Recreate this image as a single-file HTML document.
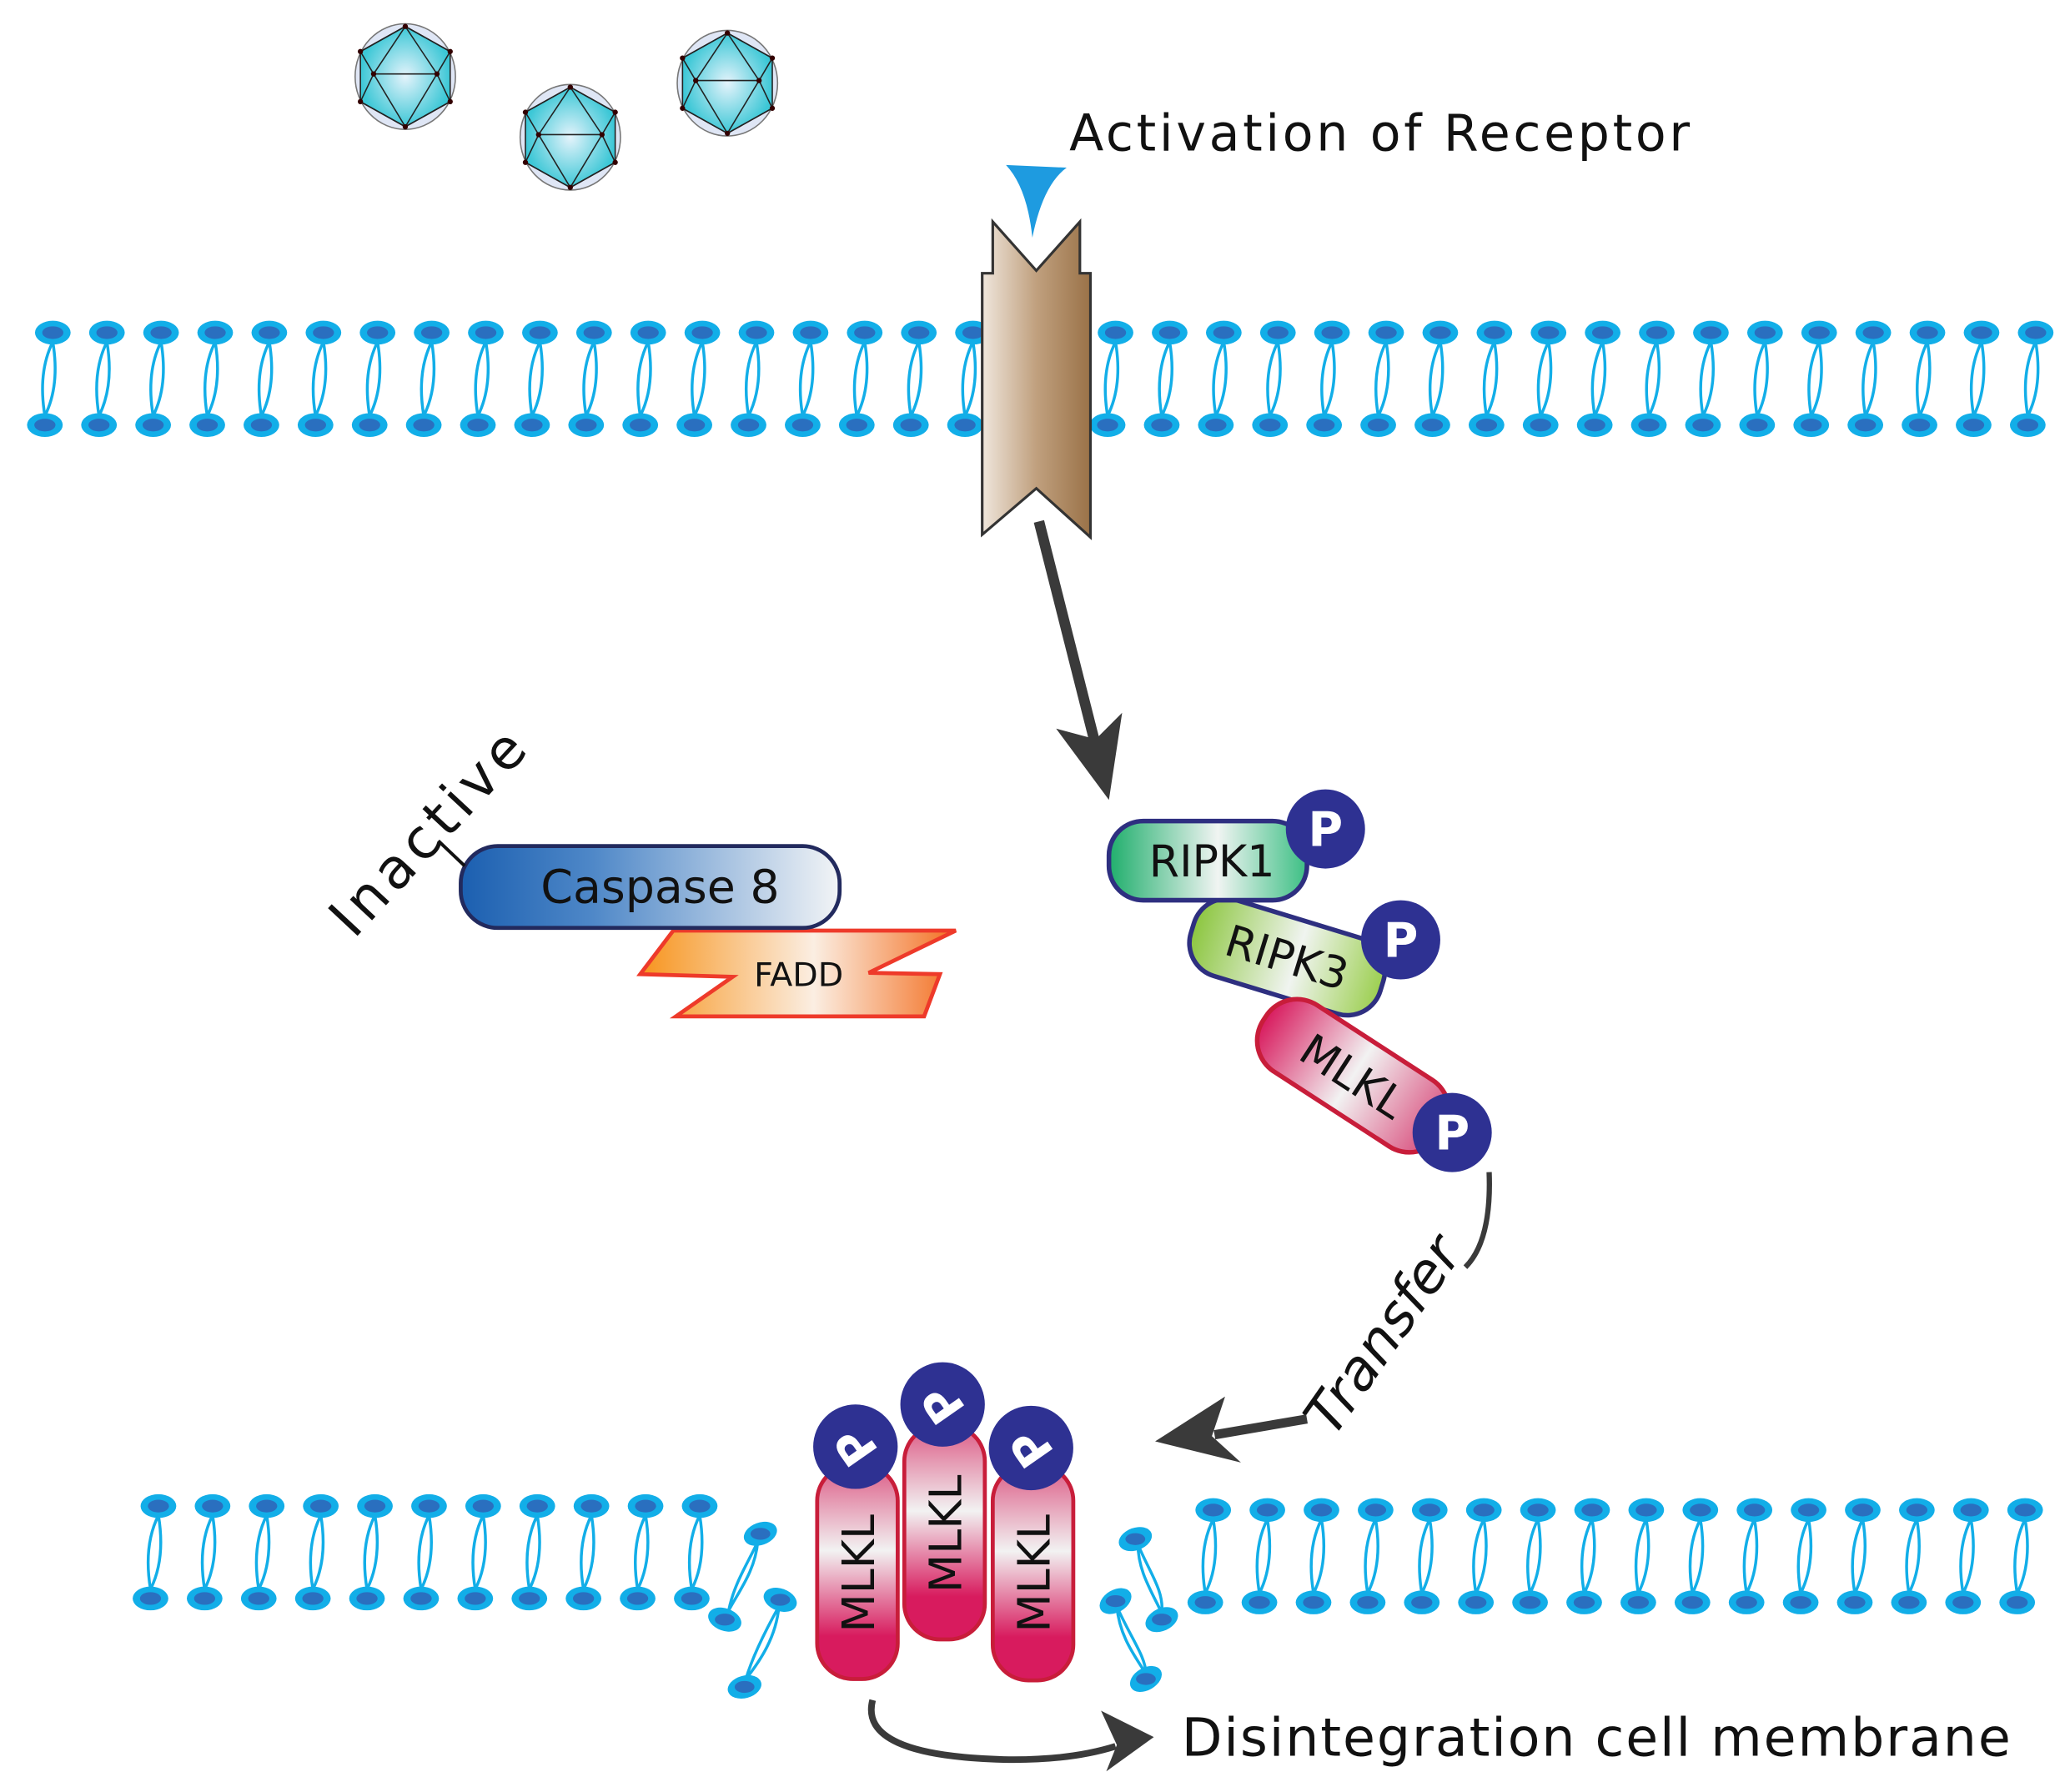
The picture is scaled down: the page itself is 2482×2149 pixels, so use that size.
<!DOCTYPE html>
<html><head><meta charset="utf-8"><style>html,body{margin:0;padding:0;background:#fff}svg{display:block}</style></head>
<body>
<svg width="2482" height="2149" viewBox="0 0 1568 1357.6" xmlns="http://www.w3.org/2000/svg" font-family="'DejaVu Sans','Liberation Sans',sans-serif">
<defs>
<g id="lip">
<path d="M0,7 C-9,25 -9,45 -6,63 M0,7 C3,25 3,45 -6,63" fill="none" stroke="#12aee8" stroke-width="2.2"/>
<ellipse cx="0" cy="0" rx="13.5" ry="9" fill="#12aee8"/><ellipse cx="0" cy="0" rx="8" ry="4.8" fill="#2a6fbf"/>
<ellipse cx="-6" cy="70" rx="13.5" ry="9" fill="#12aee8"/><ellipse cx="-6" cy="70" rx="8" ry="4.8" fill="#2a6fbf"/>
</g>
<linearGradient id="brown" x1="0" x2="1"><stop offset="0" stop-color="#efe6dc"/><stop offset="0.5" stop-color="#c0a07e"/><stop offset="1" stop-color="#9a7248"/></linearGradient>
<linearGradient id="gG" x1="0" x2="1"><stop offset="0" stop-color="#1fae6c"/><stop offset="0.55" stop-color="#f0f4f2"/><stop offset="1" stop-color="#3cbf84"/></linearGradient>
<linearGradient id="gL" x1="0" x2="1"><stop offset="0" stop-color="#8cc63f"/><stop offset="0.55" stop-color="#f0f4f0"/><stop offset="1" stop-color="#9ccf50"/></linearGradient>
<linearGradient id="gR" x1="0" x2="1"><stop offset="0" stop-color="#d81b5e"/><stop offset="0.5" stop-color="#f2f2f2"/><stop offset="1" stop-color="#d84a7a"/></linearGradient>
<linearGradient id="gRv" x1="0" x2="0" y1="0" y2="1"><stop offset="0" stop-color="#dc5a85"/><stop offset="0.4" stop-color="#f2f2f2"/><stop offset="0.8" stop-color="#d81b5e"/></linearGradient>
<linearGradient id="gB" x1="0" x2="1"><stop offset="0" stop-color="#1b5fb0"/><stop offset="0.35" stop-color="#4f88c8"/><stop offset="1" stop-color="#f2f4f6"/></linearGradient>
<linearGradient id="gO" x1="0" x2="1"><stop offset="0" stop-color="#f7941d"/><stop offset="0.55" stop-color="#fbeee2"/><stop offset="1" stop-color="#f36f21"/></linearGradient>
<radialGradient id="vir"><stop offset="0" stop-color="#e4f3fb"/><stop offset="1" stop-color="#3cc7d6"/></radialGradient>
<g id="virus">
<ellipse cx="0" cy="0" rx="38" ry="40" fill="#dfe6f5" stroke="#777" stroke-width="1"/>
<polygon points="0,-38 34,-19 34,19 0,38 -34,19 -34,-19" fill="url(#vir)" stroke="#222" stroke-width="1"/>
<path d="M0,-38 L-24,-2 L0,38 L24,-2 Z M-24,-2 H24 M-34,-19 L-24,-2 L-34,19 M34,-19 L24,-2 L34,19 M-34,-19 L0,-38 L34,-19 M-34,19 L0,38 L34,19" fill="none" stroke="#222" stroke-width="1"/>
<g fill="#300"><circle cx="0" cy="-38" r="2"/><circle cx="34" cy="-19" r="2"/><circle cx="34" cy="19" r="2"/><circle cx="0" cy="38" r="2"/><circle cx="-34" cy="19" r="2"/><circle cx="-34" cy="-19" r="2"/><circle cx="-24" cy="-2" r="2"/><circle cx="24" cy="-2" r="2"/></g>
</g>
</defs>

<use href="#virus" x="307" y="58"/>
<use href="#virus" x="432" y="104"/>
<use href="#virus" x="551" y="63"/>

<g>
<use href="#lip" x="40" y="252"/><use href="#lip" x="81" y="252"/><use href="#lip" x="122" y="252"/><use href="#lip" x="163" y="252"/><use href="#lip" x="204" y="252"/><use href="#lip" x="245" y="252"/><use href="#lip" x="286" y="252"/><use href="#lip" x="327" y="252"/><use href="#lip" x="368" y="252"/><use href="#lip" x="409" y="252"/><use href="#lip" x="450" y="252"/><use href="#lip" x="491" y="252"/><use href="#lip" x="532" y="252"/><use href="#lip" x="573" y="252"/><use href="#lip" x="614" y="252"/><use href="#lip" x="655" y="252"/><use href="#lip" x="696" y="252"/><use href="#lip" x="737" y="252"/>
<use href="#lip" x="845" y="252"/><use href="#lip" x="886" y="252"/><use href="#lip" x="927" y="252"/><use href="#lip" x="968" y="252"/><use href="#lip" x="1009" y="252"/><use href="#lip" x="1050" y="252"/><use href="#lip" x="1091" y="252"/><use href="#lip" x="1132" y="252"/><use href="#lip" x="1173" y="252"/><use href="#lip" x="1214" y="252"/><use href="#lip" x="1255" y="252"/><use href="#lip" x="1296" y="252"/><use href="#lip" x="1337" y="252"/><use href="#lip" x="1378" y="252"/><use href="#lip" x="1419" y="252"/><use href="#lip" x="1460" y="252"/><use href="#lip" x="1501" y="252"/><use href="#lip" x="1542" y="252"/>
</g>

<path d="M744,207 L752,207 L752,168 L785,205 L818,168 L818,207 L826,207 L826,407 L785,370 L744,405 Z" fill="url(#brown)" stroke="#333" stroke-width="2"/>
<path d="M762,125 L808,127 Q790,140 782,180 Q778,142 762,125 Z" fill="#1e9be0"/>
<text x="810" y="114" font-size="38" fill="#111" textLength="470">Activation of Receptor</text>

<line x1="787" y1="395" x2="830" y2="565" stroke="#3a3a3a" stroke-width="8"/>
<path d="M840,606 L800,552 L830,560 L850,540 Z" fill="#3a3a3a"/>

<path d="M485,738 L510,705 L724,705 L658,737 L712,738 L700,770 L512,770 L555,740 Z" fill="url(#gO)" stroke="#ee3a2a" stroke-width="3"/>
<text x="605" y="747" font-size="25" text-anchor="middle" fill="#111">FADD</text>
<rect x="349" y="641" width="287" height="62" rx="28" fill="url(#gB)" stroke="#222a5e" stroke-width="3"/>
<text x="500" y="684" font-size="35" text-anchor="middle" fill="#111">Caspase 8</text>
<line x1="332" y1="637" x2="352" y2="656" stroke="#111" stroke-width="2.5"/>
<text transform="translate(268,712) rotate(-47)" font-size="42" fill="#111" textLength="195">Inactive</text>

<g transform="translate(975,725) rotate(17)">
<rect x="-75" y="-30" width="150" height="60" rx="26" fill="url(#gL)" stroke="#2e2f80" stroke-width="3.5"/>
<text x="0" y="12" font-size="33" text-anchor="middle" fill="#111">RIPK3</text>
</g>
<rect x="840" y="622" width="150" height="60" rx="26" fill="url(#gG)" stroke="#2e2f80" stroke-width="3.5"/>
<text x="918" y="664" font-size="33" text-anchor="middle" fill="#111">RIPK1</text>
<g transform="translate(1025,815) rotate(33)">
<rect x="-80" y="-30" width="160" height="60" rx="28" fill="url(#gR)" stroke="#c81d3a" stroke-width="3.5"/>
<text x="0" y="12" font-size="33" text-anchor="middle" fill="#111">MLKL</text>
</g>
<g font-weight="bold" font-size="36" fill="#fff" text-anchor="middle">
<circle cx="1004" cy="628" r="30" fill="#2e3192"/><text x="1004" y="641">P</text>
<circle cx="1061" cy="712" r="30" fill="#2e3192"/><text x="1061" y="725">P</text>
<circle cx="1100" cy="858" r="30" fill="#2e3192"/><text x="1100" y="871">P</text>
</g>

<path d="M1128,888 Q1130,940 1110,960" fill="none" stroke="#3a3a3a" stroke-width="4"/>
<text transform="translate(1010,1090) rotate(-55)" font-size="42" font-style="italic" fill="#111">Transfer</text>
<line x1="990" y1="1075" x2="920" y2="1087" stroke="#3a3a3a" stroke-width="7"/>
<path d="M875,1092 L928,1058 L918,1088 L940,1108 Z" fill="#3a3a3a"/>

<g>
<use href="#lip" x="120" y="1141"/><use href="#lip" x="161" y="1141"/><use href="#lip" x="202" y="1141"/><use href="#lip" x="243" y="1141"/><use href="#lip" x="284" y="1141"/><use href="#lip" x="325" y="1141"/><use href="#lip" x="366" y="1141"/><use href="#lip" x="407" y="1141"/><use href="#lip" x="448" y="1141"/><use href="#lip" x="489" y="1141"/><use href="#lip" x="530" y="1141"/>
<use href="#lip" x="919" y="1144"/><use href="#lip" x="960" y="1144"/><use href="#lip" x="1001" y="1144"/><use href="#lip" x="1042" y="1144"/><use href="#lip" x="1083" y="1144"/><use href="#lip" x="1124" y="1144"/><use href="#lip" x="1165" y="1144"/><use href="#lip" x="1206" y="1144"/><use href="#lip" x="1247" y="1144"/><use href="#lip" x="1288" y="1144"/><use href="#lip" x="1329" y="1144"/><use href="#lip" x="1370" y="1144"/><use href="#lip" x="1411" y="1144"/><use href="#lip" x="1452" y="1144"/><use href="#lip" x="1493" y="1144"/><use href="#lip" x="1534" y="1144"/>
</g>
<g fill="#12aee8">
<path d="M574,1168 C566,1185 556,1200 552,1220 M574,1168 C572,1190 560,1205 552,1220 M590,1217 C580,1235 570,1255 565,1272 M590,1217 C588,1240 576,1258 565,1272 M862,1170 C862,1190 872,1205 880,1222 M862,1170 C870,1190 882,1205 880,1222 M846,1217 C848,1240 860,1255 868,1268 M846,1217 C856,1240 868,1255 868,1268" fill="none" stroke="#12aee8" stroke-width="2.2"/>
<ellipse cx="576" cy="1162" rx="13" ry="8.5" transform="rotate(-20 576 1162)"/><ellipse cx="549" cy="1227" rx="13" ry="8.5" transform="rotate(20 549 1227)"/>
<ellipse cx="591" cy="1212" rx="13" ry="8.5" transform="rotate(20 591 1212)"/><ellipse cx="564" cy="1278" rx="13" ry="8.5" transform="rotate(-15 564 1278)"/>
<ellipse cx="860" cy="1166" rx="13" ry="8.5" transform="rotate(-20 860 1166)"/><ellipse cx="880" cy="1227" rx="13" ry="8.5" transform="rotate(-25 880 1227)"/>
<ellipse cx="845" cy="1213" rx="13" ry="8.5" transform="rotate(-30 845 1213)"/><ellipse cx="868" cy="1272" rx="13" ry="8.5" transform="rotate(-30 868 1272)"/>
</g>
<g fill="#2a6fbf">
<ellipse cx="576" cy="1162" rx="7.5" ry="4.5"/><ellipse cx="549" cy="1227" rx="7.5" ry="4.5"/><ellipse cx="591" cy="1212" rx="7.5" ry="4.5"/><ellipse cx="564" cy="1278" rx="7.5" ry="4.5"/>
<ellipse cx="860" cy="1166" rx="7.5" ry="4.5"/><ellipse cx="880" cy="1227" rx="7.5" ry="4.5"/><ellipse cx="845" cy="1213" rx="7.5" ry="4.5"/><ellipse cx="868" cy="1272" rx="7.5" ry="4.5"/>
</g>

<rect x="619" y="1110" width="61" height="162" rx="27" fill="url(#gRv)" stroke="#c81d3a" stroke-width="3"/>
<rect x="685" y="1080" width="61" height="162" rx="27" fill="url(#gRv)" stroke="#c81d3a" stroke-width="3"/>
<rect x="752" y="1110" width="61" height="163" rx="27" fill="url(#gRv)" stroke="#c81d3a" stroke-width="3"/>
<g font-size="34" fill="#111" text-anchor="middle">
<text transform="translate(662,1192) rotate(-90)">MLKL</text>
<text transform="translate(728,1162) rotate(-90)">MLKL</text>
<text transform="translate(795,1192) rotate(-90)">MLKL</text>
</g>
<g font-weight="bold" font-size="36" fill="#fff" text-anchor="middle">
<circle cx="648" cy="1096" r="32" fill="#2e3192"/><text transform="translate(648,1096) rotate(-125)" y="13">P</text>
<circle cx="714" cy="1064" r="32" fill="#2e3192"/><text transform="translate(714,1064) rotate(-125)" y="13">P</text>
<circle cx="781" cy="1097" r="32" fill="#2e3192"/><text transform="translate(781,1097) rotate(-125)" y="13">P</text>
</g>

<path d="M661,1288 Q650,1330 760,1333 Q810,1334 845,1323" fill="none" stroke="#3a3a3a" stroke-width="5"/>
<path d="M874,1316 L834,1296 L846,1322 L838,1342 Z" fill="#3a3a3a"/>
<text x="895" y="1330" font-size="40" fill="#111" textLength="628">Disintegration cell membrane</text>
</svg>
</body></html>
